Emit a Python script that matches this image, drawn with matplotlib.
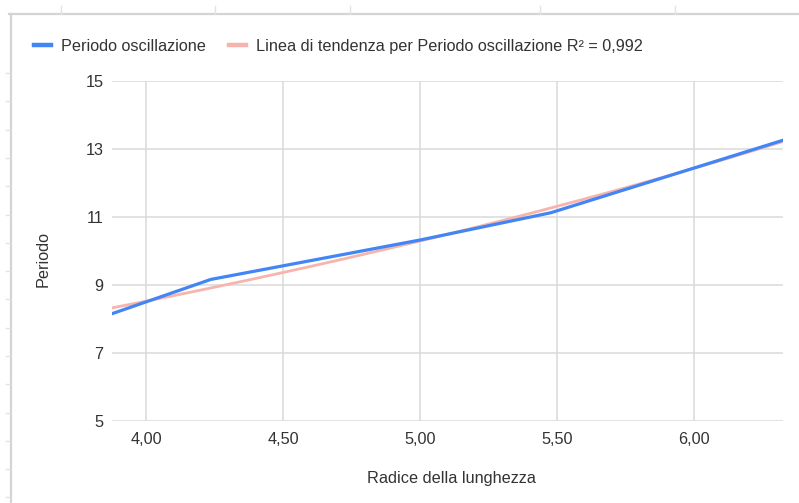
import numpy as np
import matplotlib.pyplot as plt
from matplotlib.lines import Line2D

# radice della lunghezza vs periodo di oscillazione
radice = [3.873, 4.235, 5.00, 5.477, 6.325]
periodo = [8.15, 9.16, 10.32, 11.12, 13.25]

yticks = [5, 7, 9, 11, 13, 15]
xticks = [4.0, 4.5, 5.0, 5.5, 6.0]
r2_label = "R² = 0,992"

W, H = 799, 503
FS = 11.7
plt.rcParams['font.family'] = ['Liberation Sans', 'DejaVu Sans']
plt.rcParams['font.size'] = FS

blue = '#4285F4'
pink = '#F6B4AC'
grid = '#DADADA'
txt = '#333333'

fig = plt.figure(figsize=[W / 100, H / 100], dpi=100)
ax = fig.add_axes([111.7 / W, 1 - 421 / H, (783 - 111.7) / W, (421 - 80.7) / H])

x = np.array(radice)
y = np.array(periodo)

# trend esponenziale (come Google Sheets: regressione su ln y)
b, lna = np.polyfit(x, np.log(y), 1)
xt = np.linspace(x.min(), x.max(), 100)
yt = np.exp(lna) * np.exp(b * xt)

ax.plot(xt, yt, color=pink, lw=2.0, solid_capstyle='round', zorder=3)
ax.plot(x, y, color=blue, lw=2.3, solid_capstyle='round', zorder=4)

ax.set_xlim(x.min(), x.max())
ax.set_ylim(5, 15)
ax.set_xticks(xticks)
ax.set_xticklabels([f"{v:.2f}".replace('.', ',') for v in xticks])
ax.set_yticks(yticks)
ax.grid(True, color=grid, lw=1.1)
ax.set_axisbelow(True)
for s in ax.spines.values():
    s.set_visible(False)
ax.tick_params(length=0, colors=txt, labelsize=FS)
ax.tick_params(axis='y', pad=6)
ax.tick_params(axis='x', pad=8)

ax.set_xlabel("Radice della lunghezza", color=txt, fontsize=FS)
ax.xaxis.set_label_coords(0.506, -0.148)
ax.set_ylabel("Periodo", color=txt, fontsize=FS)
ax.yaxis.set_label_coords(-0.091, 0.4746)

handles = [Line2D([], [], color=blue, lw=3.2),
           Line2D([], [], color=pink, lw=3.2)]
labels = ["Periodo oscillazione",
          "Linea di tendenza per Periodo oscillazione " + r2_label]
fig.legend(handles, labels, loc='center left', bbox_to_anchor=(34 / W, 1 - 46.5 / H),
           ncol=2, frameon=False, borderpad=0, borderaxespad=0,
           handlelength=1.05, handletextpad=0.6, columnspacing=1.45,
           labelcolor=txt, fontsize=FS)


# cornice del foglio di calcolo
def px(xx, yy):
    return [v / W for v in xx], [1 - v / H for v in yy]


border = '#D4D4D4'
fig.add_artist(Line2D(*px([9, W], [14, 14]), color=border, lw=1.6))
fig.add_artist(Line2D(*px([11, 11], [14, H]), color=border, lw=1.6))
for tx in [61, 215, 350, 540, 675]:
    fig.add_artist(Line2D(*px([tx, tx], [6, 14]), color='#E2E2E2', lw=1))
for ty in np.arange(73, H, 28.3):
    fig.add_artist(Line2D(*px([6, 10], [ty, ty]), color='#E2E2E2', lw=1))

fig.savefig("out.png", dpi=100)
